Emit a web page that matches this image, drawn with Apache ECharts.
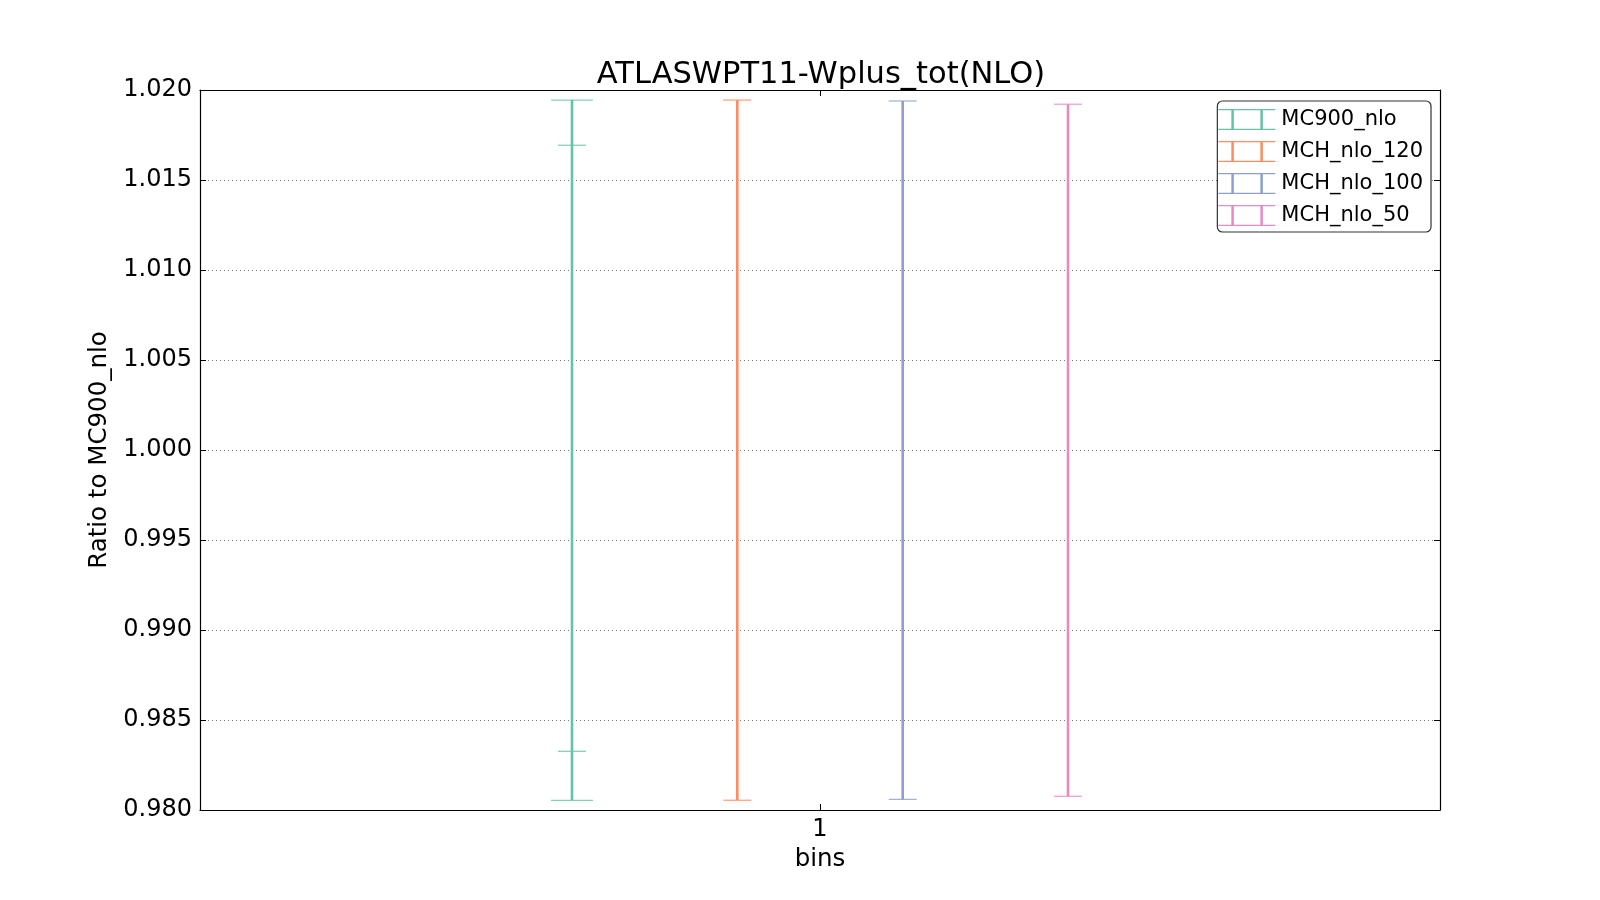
<!DOCTYPE html>
<html>
<head>
<meta charset="utf-8">
<script src="https://cdn.jsdelivr.net/npm/echarts@6/dist/echarts.min.js"></script>
<style>html,body{margin:0;padding:0;background:#fff;}#chart{width:1600px;height:900px;}</style>
</head>
<body>
<div id="chart"></div>
<script>
// ---- data ----
const seriesNames = ['MC900_nlo', 'MCH_nlo_120', 'MCH_nlo_100', 'MCH_nlo_50'];
const xPositions = [0.8, 0.9333, 1.0667, 1.2];
const highs = [1.01944, 1.01944, 1.01939, 1.01921];
const lows = [0.98054, 0.98054, 0.98059, 0.98076];
const innerHighs = [1.01693, null, null, null];
const innerLows = [0.98326, null, null, null];
const xTickValues = [1];
const xTickLabels = ['1'];
const colors = ['#66c2a5', '#fc8d62', '#8da0cb', '#e78ac3'];

const chart = echarts.init(document.getElementById('chart'));
const FONT = 'DejaVu Sans';

function makeRender(idx) {
  return function (params, api) {
    const x = api.value(0);
    const lo = api.coord([x, api.value(1)]);
    const hi = api.coord([x, api.value(2)]);
    const color = colors[idx];
    const capW = (innerHighs[idx] !== null) ? 42 : 28;
    const children = [
      { type: 'line', shape: { x1: lo[0], y1: lo[1], x2: hi[0], y2: hi[1] },
        style: { stroke: color, lineWidth: 2.6 } },
      { type: 'line', shape: { x1: hi[0] - capW / 2, y1: hi[1], x2: hi[0] + capW / 2, y2: hi[1] },
        style: { stroke: color, lineWidth: 1.3, opacity: 0.8 } },
      { type: 'line', shape: { x1: lo[0] - capW / 2, y1: lo[1], x2: lo[0] + capW / 2, y2: lo[1] },
        style: { stroke: color, lineWidth: 1.3, opacity: 0.8 } }
    ];
    if (innerHighs[idx] !== null) {
      const ih = api.coord([x, innerHighs[idx]]);
      const il = api.coord([x, innerLows[idx]]);
      const w = 28;
      children.push({ type: 'line', shape: { x1: ih[0] - w / 2, y1: ih[1], x2: ih[0] + w / 2, y2: ih[1] },
        style: { stroke: color, lineWidth: 1.3, opacity: 0.8 } });
      children.push({ type: 'line', shape: { x1: il[0] - w / 2, y1: il[1], x2: il[0] + w / 2, y2: il[1] },
        style: { stroke: color, lineWidth: 1.3, opacity: 0.8 } });
    }
    return { type: 'group', children: children };
  };
}

const legendIcon = 'path://M0 0H57V1.2H0Z M0 19.8H57V21H0Z M13 0H15.5V21H13Z M42 0H44.5V21H42Z';

const series = seriesNames.map((name, i) => ({
  name: name,
  type: 'custom',
  xAxisIndex: 0,
  yAxisIndex: 0,
  itemStyle: { color: colors[i] },
  renderItem: makeRender(i),
  data: [[xPositions[i], lows[i], highs[i]]],
  clip: false,
  z: 5
}));

const option = {
  backgroundColor: '#ffffff',
  animation: false,
  title: {
    text: 'ATLASWPT11-Wplus_tot(NLO)',
    left: 816,
    textAlign: 'center',
    top: 55,
    textStyle: { fontFamily: FONT, fontSize: 30.5, fontWeight: 'normal', color: '#000' }
  },
  legend: {
    orient: 'vertical',
    right: 169,
    top: 101,
    align: 'left',
    icon: legendIcon,
    itemWidth: 57,
    itemHeight: 21,
    itemGap: 11,
    padding: [8, 8, 6, 1],
    borderColor: '#333',
    borderWidth: 1.2,
    borderRadius: 5,
    backgroundColor: '#fff',
    textStyle: { fontFamily: FONT, fontSize: 21, color: '#000', padding: [0, 0, 0, 1] },
    data: seriesNames
  },
  grid: { left: 200, right: 160, top: 90, bottom: 90, containLabel: false },
  xAxis: [
    {
      type: 'value', position: 'bottom', min: 0.5, max: 1.5, interval: 0.5,
      name: 'bins', nameLocation: 'middle', nameGap: 37,
      nameTextStyle: { fontFamily: FONT, fontSize: 24.5, color: '#000' },
      axisLine: { show: true, onZero: false, lineStyle: { color: '#000', width: 1.2 } },
      axisTick: { show: true, inside: true, length: 6, customValues: xTickValues, lineStyle: { color: '#000' } },
      axisLabel: { show: true, margin: 8, customValues: xTickValues,
        formatter: (v) => { const k = xTickValues.indexOf(v); return k >= 0 ? xTickLabels[k] : ''; },
        fontFamily: FONT, fontSize: 24, color: '#000' },
      splitLine: { show: false }
    },
    {
      type: 'value', position: 'top', min: 0.5, max: 1.5, interval: 0.5,
      axisLine: { show: true, onZero: false, lineStyle: { color: '#000', width: 1.2 } },
      axisTick: { show: true, inside: true, length: 6, customValues: xTickValues, lineStyle: { color: '#000' } },
      axisLabel: { show: false },
      splitLine: { show: false }
    }
  ],
  yAxis: [
    {
      type: 'value', position: 'left', min: 0.98, max: 1.02, interval: 0.005,
      name: 'Ratio to MC900_nlo', nameLocation: 'middle', nameGap: 84,
      nameTextStyle: { fontFamily: FONT, fontSize: 24.5, color: '#000' },
      axisLine: { show: true, onZero: false, lineStyle: { color: '#000', width: 1.2 } },
      axisTick: { show: true, inside: true, length: 6, lineStyle: { color: '#000' } },
      axisLabel: { margin: 8, formatter: (v) => v.toFixed(3), fontFamily: FONT, fontSize: 24, color: '#000' },
      splitLine: { show: true, lineStyle: { color: '#777', width: 1, type: [1, 3] } }
    },
    {
      type: 'value', position: 'right', min: 0.98, max: 1.02, interval: 0.005,
      axisLine: { show: true, onZero: false, lineStyle: { color: '#000', width: 1.2 } },
      axisTick: { show: true, inside: true, length: 6, lineStyle: { color: '#000' } },
      axisLabel: { show: false },
      splitLine: { show: false }
    }
  ],
  series: series
};
chart.setOption(option);
</script>
</body>
</html>
